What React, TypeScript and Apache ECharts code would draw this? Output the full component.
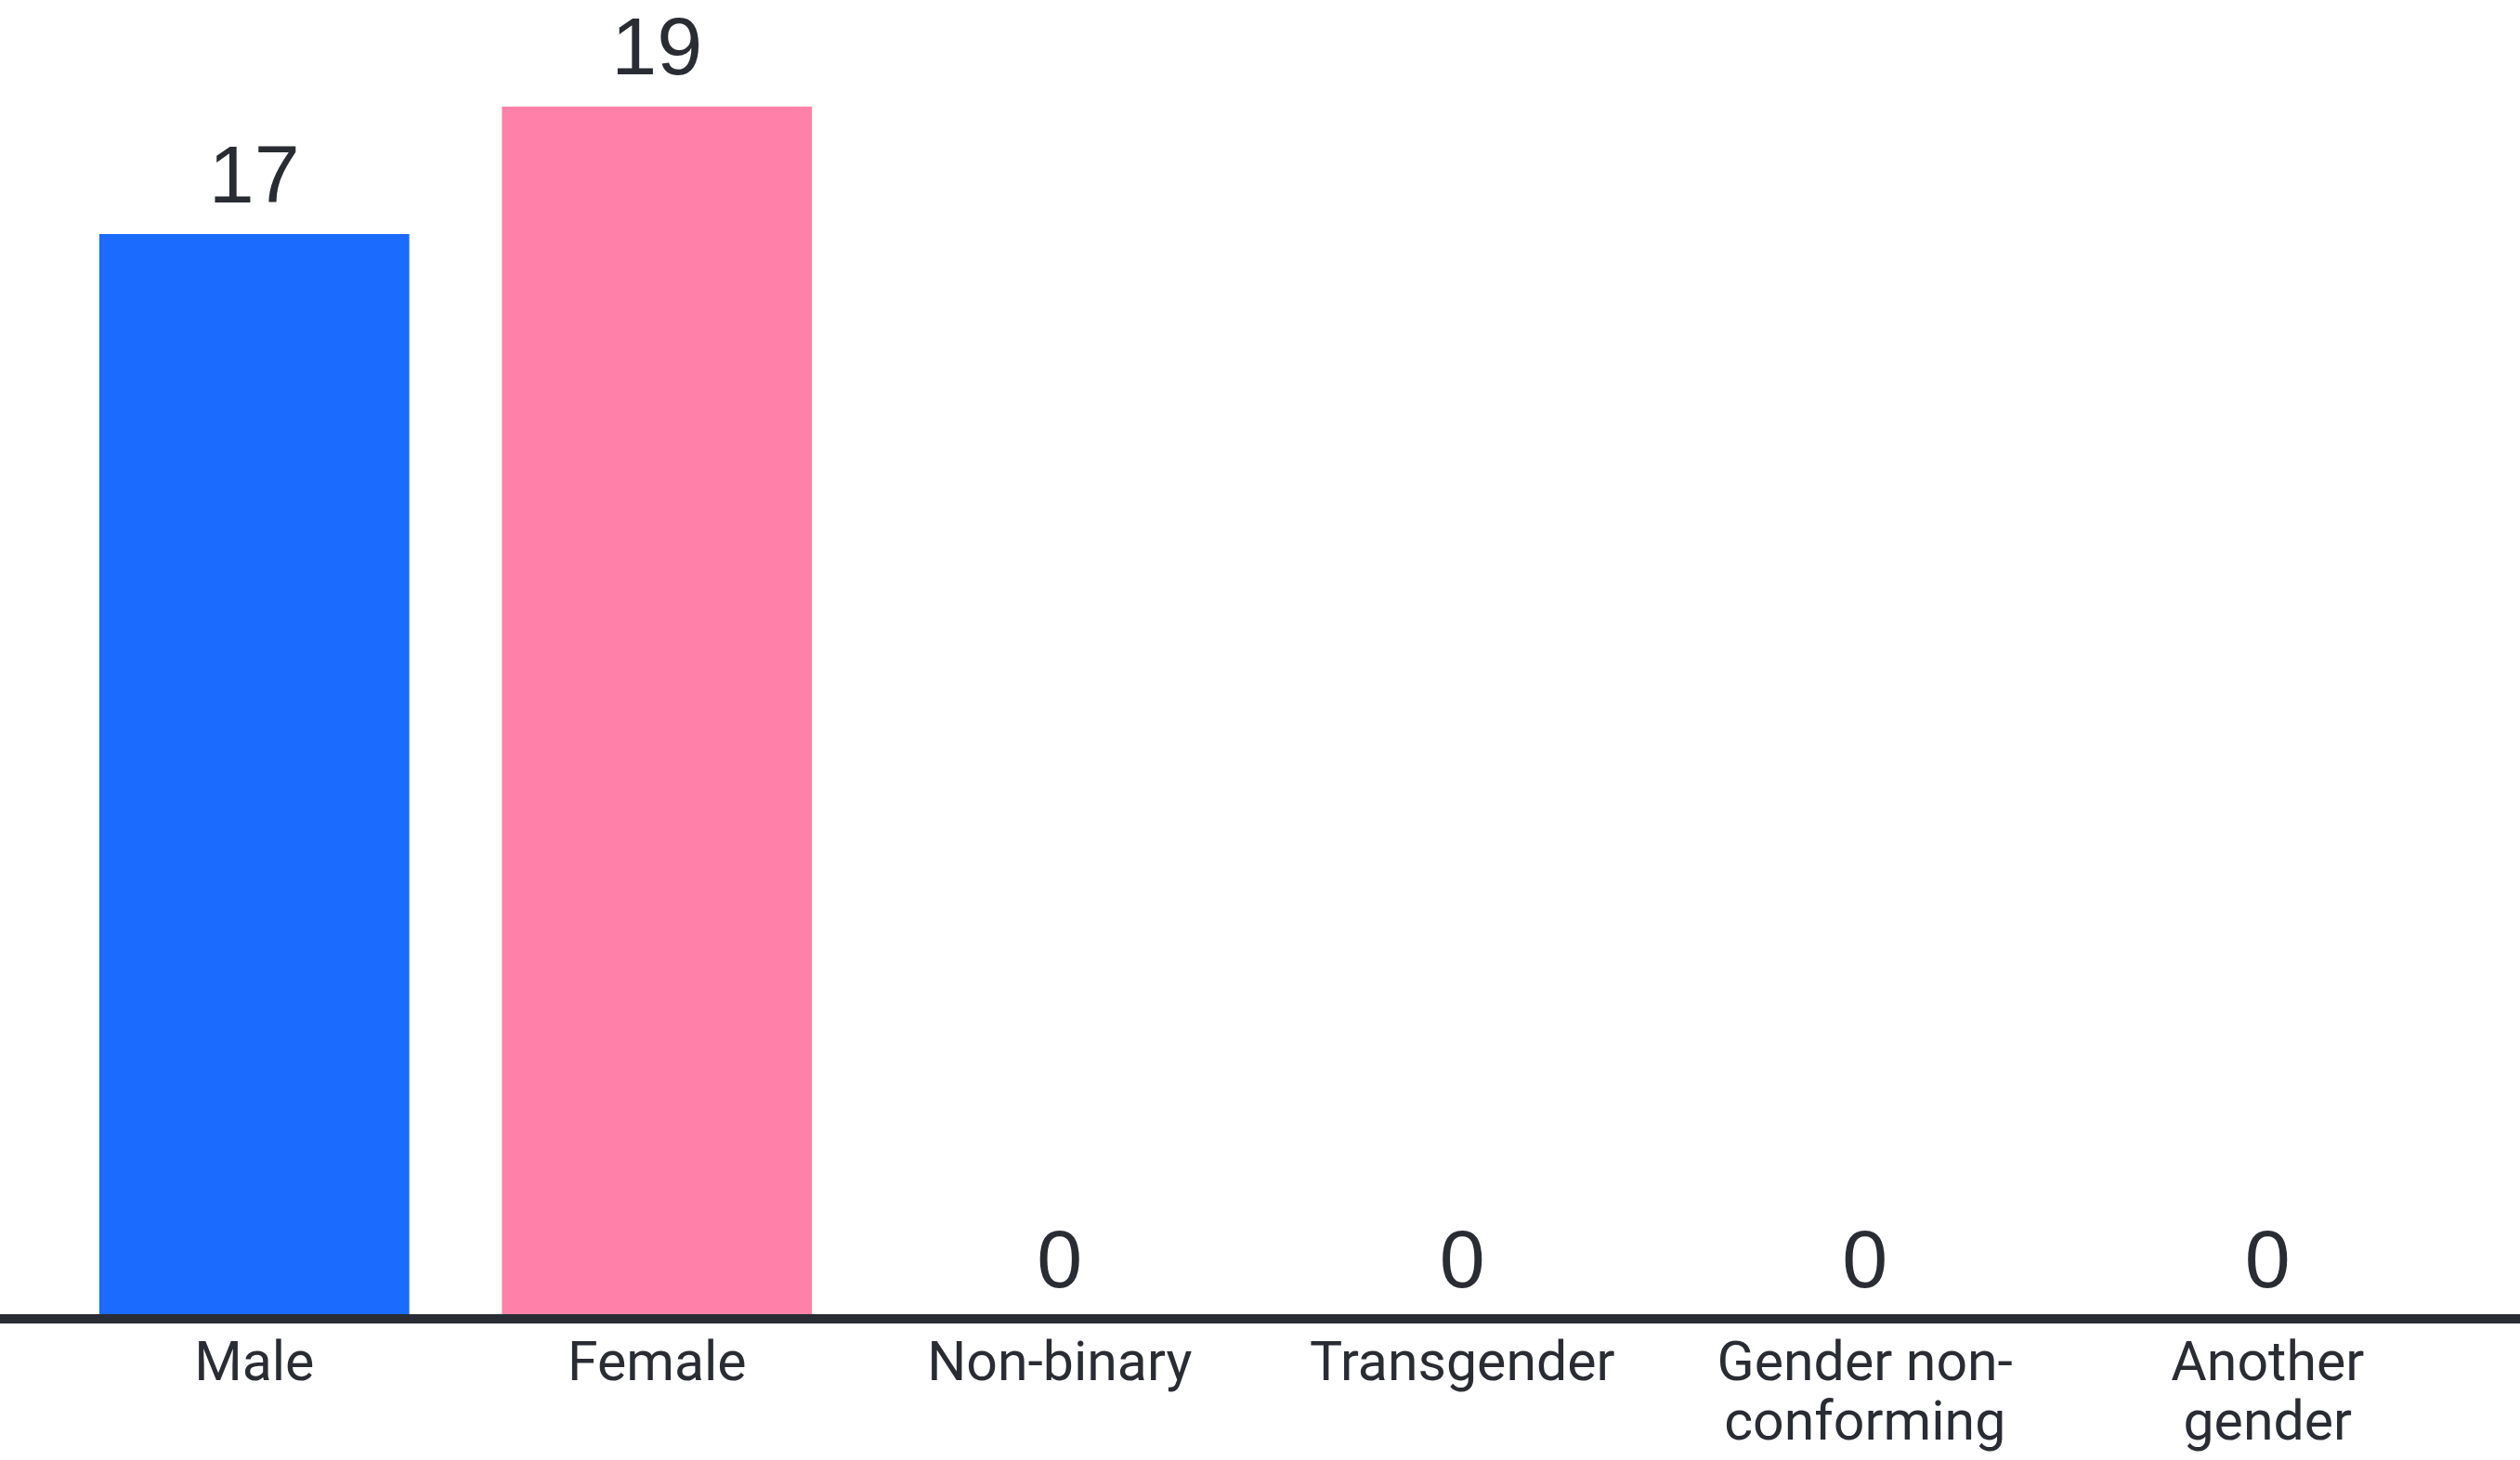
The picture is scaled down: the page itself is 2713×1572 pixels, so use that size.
import React, { useEffect, useRef } from "react";
import * as echarts from "echarts";

// Respondent counts by gender
const categories = [
  "Male",
  "Female",
  "Non-binary",
  "Transgender",
  "Gender non-\nconforming",
  "Another\ngender",
];
const counts = [17, 19, 0, 0, 0, 0];
const barColors = ["#1B6BFF", "#FF80A9", "#1B6BFF", "#1B6BFF", "#1B6BFF", "#1B6BFF"];

const INK = "#2A2C33";

export default function App() {
  const ref = useRef<HTMLDivElement>(null);

  useEffect(() => {
    if (!ref.current) return;
    const chart = echarts.init(ref.current, null, { renderer: "svg" });
    chart.setOption({
      animation: false,
      backgroundColor: "#ffffff",
      grid: [
        { left: 57, right: 55, top: 46, bottom: 152 },
        // full-width baseline under the bars
        { left: 0, right: 0, top: 46, bottom: 152 },
      ],
      xAxis: [
        {
          type: "category",
          gridIndex: 0,
          data: categories,
          z: 10,
          axisLine: { show: false },
          axisTick: { show: false },
          axisLabel: {
            interval: 0,
            margin: 13,
            color: INK,
            fontFamily: "Roboto",
            fontSize: 59,
            lineHeight: 64,
            align: "center",
          },
        },
        {
          type: "value",
          gridIndex: 1,
          min: 0,
          max: 1,
          z: 10,
          axisLine: { show: true, lineStyle: { color: INK, width: 10 } },
          axisTick: { show: false },
          axisLabel: { show: false },
          splitLine: { show: false },
        },
      ],
      yAxis: [
        { type: "value", gridIndex: 0, min: 0, max: 20, show: false },
        { type: "value", gridIndex: 1, min: 0, max: 1, show: false },
      ],
      series: [
        {
          type: "bar",
          xAxisIndex: 0,
          yAxisIndex: 0,
          barWidth: "77%",
          data: counts.map((v, i) => ({
            value: v,
            itemStyle: { color: barColors[i] },
          })),
          label: {
            show: true,
            position: "top",
            distance: 27,
            color: INK,
            fontFamily: "'Liberation Sans Narrow', 'Liberation Sans', Arial, sans-serif",
            fontSize: 88,
            lineHeight: 76,
          },
        },
      ],
    });
    return () => chart.dispose();
  }, []);

  return (
    <div
      ref={ref}
      style={{ position: "fixed", left: 0, top: 0, width: 2713, height: 1572 }}
    />
  );
}
